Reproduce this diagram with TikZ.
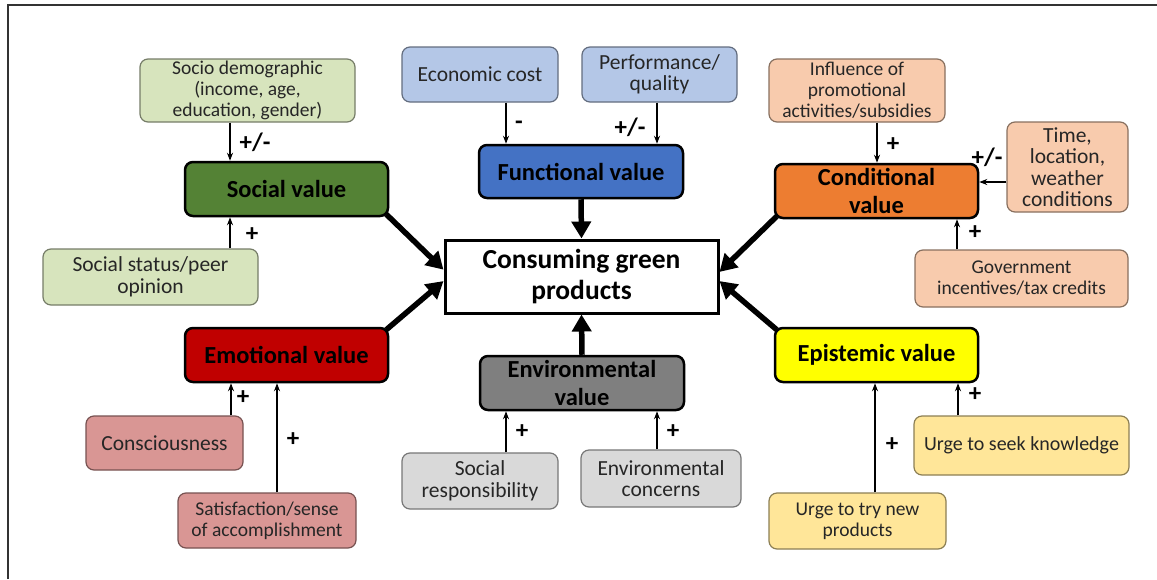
\documentclass[tikz,border=0pt]{standalone}
\usepackage{fontspec}
\setmainfont{Carlito}
\usetikzlibrary{arrows.meta,calc}
\definecolor{grnL}{HTML}{D7E4BD}
\definecolor{grnD}{HTML}{548235}
\definecolor{bluL}{HTML}{B4C7E7}
\definecolor{bluD}{HTML}{4472C4}
\definecolor{orL}{HTML}{F8CBAD}
\definecolor{orD}{HTML}{ED7D31}
\definecolor{redL}{HTML}{D99694}
\definecolor{redD}{HTML}{C00000}
\definecolor{gryL}{HTML}{D9D9D9}
\definecolor{gryD}{HTML}{7F7F7F}
\definecolor{yelL}{HTML}{FFE699}
\definecolor{yelD}{HTML}{FFFF00}
\begin{document}
\begin{tikzpicture}[x=1pt,y=-1pt,
  sub/.style={rectangle, rounded corners=8pt, draw=#1!55!black, fill=#1, line width=1.2pt,
    align=center, inner sep=0pt, font=\fontsize{21.5}{21.5}\selectfont, text=black!85},
  smalltext/.style={font=\fontsize{19.5}{21}\selectfont},
  val/.style={rectangle, rounded corners=8pt, draw=black, fill=#1, line width=2.5pt,
    align=center, inner sep=0pt, font=\bfseries\fontsize{24.5}{28}\selectfont},
  sz/.style 2 args={minimum width=#1pt, minimum height=#2pt},
  lab/.style={font=\bfseries\fontsize{25}{25}\selectfont, inner sep=0pt},
  smallarrow/.style={line width=1.8pt, -{Stealth[length=8pt,width=6pt]}},
  bigarrow/.style={line width=5.5pt, -{Triangle[length=17pt,width=19pt]}}
]
\useasboundingbox (0,0) rectangle (1157,579);
% frame
\coordinate (fA) at (8,579);
\coordinate (fB) at (8,5);
\coordinate (fC) at (1157,5);
\draw[line width=1.8pt, black!80] (fA) -- (fB) -- (fC);

% centre
\node[rectangle, draw=black, fill=white, line width=3pt, align=center, inner sep=0pt,
  font=\bfseries\fontsize{27.5}{31}\selectfont, sz={273}{73}] (cons) at (581.5,276.5) {Consuming green\\products};

% social
\node[sub=grnL, smalltext, sz={215}{63}] (socio) at (247.5,90.5) {Socio demographic\\(income, age,\\education, gender)};
\node[val=grnD, sz={203}{54}] (social) at (286.5,189) {Social value};
\node[sub=grnL, sz={215}{56}] (status) at (150.5,277) {Social status/peer\\opinion};

% functional
\node[sub=bluL, sz={156}{55}] (econ) at (480,74.5) {Economic cost};
\node[sub=bluL, sz={155}{55}] (perf) at (659.5,74.5) {Performance/\\quality};
\node[val=bluD, sz={204}{53}] (func) at (581,171.5) {Functional value};

% environmental
\node[val=gryD, sz={204}{54}] (env) at (582,383) {Environmental\\value};
\node[sub=gryL, sz={156}{56}] (socresp) at (480,481) {Social\\responsibility};
\node[sub=gryL, sz={160}{57}] (envcon) at (661,478.5) {Environmental\\concerns};

% conditional
\node[sub=orL, smalltext, sz={176}{63}] (infl) at (857,90.5) {Influence of\\promotional\\activities/subsidies};
\node[sub=orL, sz={121}{90}] (time) at (1067.5,167) {Time,\\location,\\weather\\conditions};
\node[val=orD, sz={203}{54}] (cond) at (876.5,191) {Conditional\\value};
\node[sub=orL, smalltext, sz={213}{57}] (gov) at (1021.5,278.5) {Government\\incentives/tax credits};

% emotional
\node[val=redD, sz={203}{54}] (emo) at (286.5,355) {Emotional value};
\node[sub=redL, sz={157}{54}] (consc) at (164.5,443) {Consciousness};
\node[sub=redL, smalltext, sz={178}{55}] (satis) at (267,520.5) {Satisfaction/sense\\of accomplishment};

% epistemic
\node[val=yelD, sz={203}{54}] (epi) at (876.5,355) {Epistemic value};
\node[sub=yelL, font=\fontsize{20}{21}\selectfont, sz={215}{59}] (seek) at (1021.5,445.5) {Urge to seek knowledge};
\node[sub=yelL, smalltext, sz={177}{56}] (try) at (857.5,521) {Urge to try new\\products};

% x positions of thin connectors
\coordinate (xa) at (230,0);
\coordinate (xb) at (506,0);
\coordinate (xc) at (657,0);
\coordinate (xd) at (877,0);
\coordinate (xe) at (957,0);
\coordinate (xf) at (231,0);
\coordinate (xg) at (277,0);
\coordinate (xh) at (875,0);
\coordinate (xi) at (958,0);
\coordinate (ya) at (0,182);

\draw[smallarrow] (socio.south -| xa) -- (social.north -| xa);
\draw[smallarrow] (status.north -| xa) -- (social.south -| xa);
\draw[smallarrow] (econ.south -| xb) -- (func.north -| xb);
\draw[smallarrow] (perf.south -| xc) -- (func.north -| xc);
\draw[smallarrow] (socresp.north -| xb) -- (env.south -| xb);
\draw[smallarrow] (envcon.north -| xc) -- (env.south -| xc);
\draw[smallarrow] (infl.south -| xd) -- (cond.north -| xd);
\draw[smallarrow] (time.west |- ya) -- (cond.east |- ya);
\draw[smallarrow] (gov.north -| xe) -- (cond.south -| xe);
\draw[smallarrow] (consc.north -| xf) -- (emo.south -| xf);
\draw[smallarrow] (satis.north -| xg) -- (emo.south -| xg);
\draw[smallarrow] (try.north -| xh) -- (epi.south -| xh);
\draw[smallarrow] (seek.north -| xi) -- (epi.south -| xi);

% labels
\node[lab] (l1) at (255,142) {+/-};
\node[lab] (l2) at (252,235) {+};
\node[lab] (l3) at (519,125) {-};
\node[lab] (l4) at (630,127) {+/-};
\node[lab] (l5) at (893,145) {+};
\node[lab] (l6) at (987,157) {+/-};
\node[lab] (l7) at (975,233) {+};
\node[lab] (l8) at (243,398) {+};
\node[lab] (l9) at (293,440) {+};
\node[lab] (l10) at (522,432) {+};
\node[lab] (l11) at (673,432) {+};
\node[lab] (l12) at (892,445) {+};
\node[lab] (l13) at (975,395) {+};

% thick arrows
\coordinate (cl1) at ($(cons.north west)!0.41!(cons.south west)$);
\coordinate (cl2) at ($(cons.north west)!0.56!(cons.south west)$);
\coordinate (cr1) at ($(cons.north east)!0.44!(cons.south east)$);
\coordinate (cr2) at ($(cons.north east)!0.56!(cons.south east)$);
\coordinate (s1) at ($(social.south east)+(-3,-3)$);
\coordinate (s2) at ($(emo.north east)+(-3,3)$);
\coordinate (s3) at ($(cond.south west)+(3,-3)$);
\coordinate (s4) at ($(epi.north west)+(3,3)$);
\draw[bigarrow] (func.south) -- (cons.north);
\draw[bigarrow] (env.north) -- (cons.south);
\draw[bigarrow] (s1) -- (cl1);
\draw[bigarrow] (s2) -- (cl2);
\draw[bigarrow] (s3) -- (cr1);
\draw[bigarrow] (s4) -- (cr2);
\end{tikzpicture}
\end{document}
